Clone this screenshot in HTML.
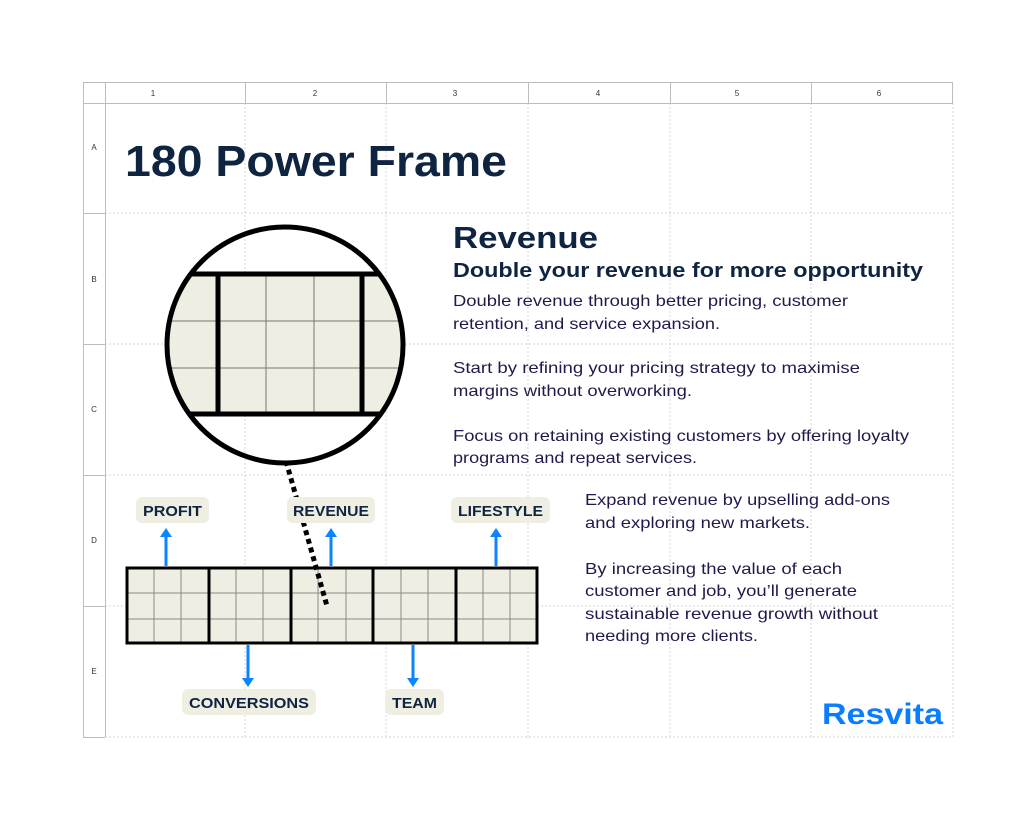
<!DOCTYPE html>
<html><head><meta charset="utf-8"><style>
html,body{margin:0;padding:0;background:#fff;}
svg{display:block;font-family:"Liberation Sans",sans-serif;}
</style></head><body>
<svg width="1024" height="819" viewBox="0 0 1024 819" xmlns="http://www.w3.org/2000/svg">
<rect width="1024" height="819" fill="#fff"/>
<g stroke="#d6d6d6" stroke-width="1" stroke-dasharray="2,2">
<line x1="245" y1="103" x2="245" y2="737"/><line x1="386" y1="103" x2="386" y2="737"/>
<line x1="528" y1="103" x2="528" y2="737"/><line x1="670" y1="103" x2="670" y2="737"/>
<line x1="811" y1="103" x2="811" y2="737"/><line x1="953" y1="103" x2="953" y2="737"/>
<line x1="105" y1="213" x2="953" y2="213"/><line x1="105" y1="344" x2="953" y2="344"/>
<line x1="105" y1="475" x2="953" y2="475"/><line x1="105" y1="606" x2="953" y2="606"/>
<line x1="105" y1="737" x2="953" y2="737"/>
</g>
<g stroke="#bdbdbd" stroke-width="1" fill="none">
<rect x="83.5" y="82.5" width="869" height="21"/>
<line x1="105.5" y1="82" x2="105.5" y2="737"/>
<line x1="83.5" y1="82" x2="83.5" y2="737"/>
<line x1="245.5" y1="82" x2="245.5" y2="103"/><line x1="386.5" y1="82" x2="386.5" y2="103"/>
<line x1="528.5" y1="82" x2="528.5" y2="103"/><line x1="670.5" y1="82" x2="670.5" y2="103"/>
<line x1="811.5" y1="82" x2="811.5" y2="103"/>
<line x1="83" y1="213.5" x2="105" y2="213.5"/><line x1="83" y1="344.5" x2="105" y2="344.5"/>
<line x1="83" y1="475.5" x2="105" y2="475.5"/><line x1="83" y1="606.5" x2="105" y2="606.5"/>
<line x1="83" y1="737.5" x2="105" y2="737.5"/>
</g>
<g font-size="8" fill="#333" text-anchor="middle">
<text x="153" y="96">1</text><text x="315" y="96">2</text><text x="455" y="96">3</text>
<text x="598" y="96">4</text><text x="737" y="96">5</text><text x="879" y="96">6</text>
<text x="94" y="150">A</text><text x="94" y="282">B</text><text x="94" y="412">C</text>
<text x="94" y="543">D</text><text x="94" y="674">E</text>
</g>
<text x="125" y="176" font-size="44" font-weight="bold" fill="#0f2440" textLength="382" lengthAdjust="spacingAndGlyphs">180 Power Frame</text>
<defs><clipPath id="cc"><circle cx="285" cy="345" r="117"/></clipPath></defs>
<g clip-path="url(#cc)">
<rect x="160" y="274" width="250" height="140" fill="#efeee3"/>
<g stroke="#777" stroke-width="1">
<line x1="266" y1="274" x2="266" y2="414"/><line x1="314" y1="274" x2="314" y2="414"/>
<line x1="160" y1="321" x2="410" y2="321"/><line x1="160" y1="368" x2="410" y2="368"/>
</g>
<g stroke="#000" stroke-width="5">
<line x1="160" y1="274" x2="410" y2="274"/><line x1="160" y1="414" x2="410" y2="414"/>
<line x1="218" y1="274" x2="218" y2="414"/><line x1="362" y1="274" x2="362" y2="414"/>
</g>
</g>
<circle cx="285" cy="345" r="118" fill="none" stroke="#000" stroke-width="5"/>
<rect x="126" y="567" width="412" height="77" fill="#efeee3"/>
<g stroke="#888" stroke-width="1">
<line x1="126" y1="593" x2="538" y2="593"/><line x1="126" y1="619" x2="538" y2="619"/>
<line x1="154" y1="567" x2="154" y2="644"/><line x1="181" y1="567" x2="181" y2="644"/>
<line x1="236" y1="567" x2="236" y2="644"/><line x1="263" y1="567" x2="263" y2="644"/>
<line x1="318" y1="567" x2="318" y2="644"/><line x1="346" y1="567" x2="346" y2="644"/>
<line x1="401" y1="567" x2="401" y2="644"/><line x1="428" y1="567" x2="428" y2="644"/>
<line x1="483" y1="567" x2="483" y2="644"/><line x1="510" y1="567" x2="510" y2="644"/>
</g>
<g stroke="#000" stroke-width="3" fill="none">
<rect x="127" y="568" width="410" height="75"/>
<line x1="209" y1="567" x2="209" y2="644"/><line x1="291" y1="567" x2="291" y2="644"/>
<line x1="373" y1="567" x2="373" y2="644"/><line x1="456" y1="567" x2="456" y2="644"/>
</g>
<line x1="286" y1="461" x2="327" y2="606" stroke="#000" stroke-width="5" stroke-dasharray="5,4"/>
<g stroke="#0a84ff" stroke-width="3">
<line x1="166" y1="566" x2="166" y2="536"/><line x1="331" y1="566" x2="331" y2="536"/>
<line x1="496" y1="566" x2="496" y2="536"/>
<line x1="248" y1="645" x2="248" y2="679"/><line x1="413" y1="645" x2="413" y2="679"/>
</g>
<g fill="#0a84ff">
<polygon points="160,537 172,537 166,528"/><polygon points="325,537 337,537 331,528"/>
<polygon points="490,537 502,537 496,528"/>
<polygon points="242,678 254,678 248,687"/><polygon points="407,678 419,678 413,687"/>
</g>
<g fill="#efeee3">
<rect x="136" y="497" width="73" height="26" rx="6"/><rect x="287" y="497" width="88" height="26" rx="6"/>
<rect x="451" y="497" width="99" height="26" rx="6"/>
<rect x="182" y="689" width="134" height="26" rx="6"/><rect x="385" y="689" width="59" height="26" rx="6"/>
</g>
<g font-size="15" font-weight="bold" fill="#0f2440">
<text x="143" y="516" textLength="59" lengthAdjust="spacingAndGlyphs">PROFIT</text>
<text x="293" y="516" textLength="76" lengthAdjust="spacingAndGlyphs">REVENUE</text>
<text x="458" y="516" textLength="85" lengthAdjust="spacingAndGlyphs">LIFESTYLE</text>
<text x="189" y="708" textLength="120" lengthAdjust="spacingAndGlyphs">CONVERSIONS</text>
<text x="392" y="708" textLength="45" lengthAdjust="spacingAndGlyphs">TEAM</text>
</g>
<text x="453" y="248" font-size="31" font-weight="bold" fill="#0f2440" textLength="145" lengthAdjust="spacingAndGlyphs">Revenue</text>
<text x="453" y="277" font-size="20" font-weight="bold" fill="#0f2440" textLength="470" lengthAdjust="spacingAndGlyphs">Double your revenue for more opportunity</text>
<g font-size="16" fill="#1e1b4b">
<text x="453" y="306" textLength="395" lengthAdjust="spacingAndGlyphs">Double revenue through better pricing, customer</text>
<text x="453" y="329" textLength="267" lengthAdjust="spacingAndGlyphs">retention, and service expansion.</text>
<text x="453" y="373" textLength="407" lengthAdjust="spacingAndGlyphs">Start by refining your pricing strategy to maximise</text>
<text x="453" y="396" textLength="239" lengthAdjust="spacingAndGlyphs">margins without overworking.</text>
<text x="453" y="441" textLength="456" lengthAdjust="spacingAndGlyphs">Focus on retaining existing customers by offering loyalty</text>
<text x="453" y="463" textLength="244" lengthAdjust="spacingAndGlyphs">programs and repeat services.</text>
<text x="585" y="505" textLength="305" lengthAdjust="spacingAndGlyphs">Expand revenue by upselling add-ons</text>
<text x="585" y="528" textLength="225" lengthAdjust="spacingAndGlyphs">and exploring new markets.</text>
<text x="585" y="574" textLength="257" lengthAdjust="spacingAndGlyphs">By increasing the value of each</text>
<text x="585" y="596" textLength="272" lengthAdjust="spacingAndGlyphs">customer and job, you’ll generate</text>
<text x="585" y="619" textLength="293" lengthAdjust="spacingAndGlyphs">sustainable revenue growth without</text>
<text x="585" y="641" textLength="173" lengthAdjust="spacingAndGlyphs">needing more clients.</text>
</g>
<text x="822" y="724" font-size="30" font-weight="bold" fill="#0a7cff" textLength="121" lengthAdjust="spacingAndGlyphs">Resvita</text>
</svg>
</body></html>
